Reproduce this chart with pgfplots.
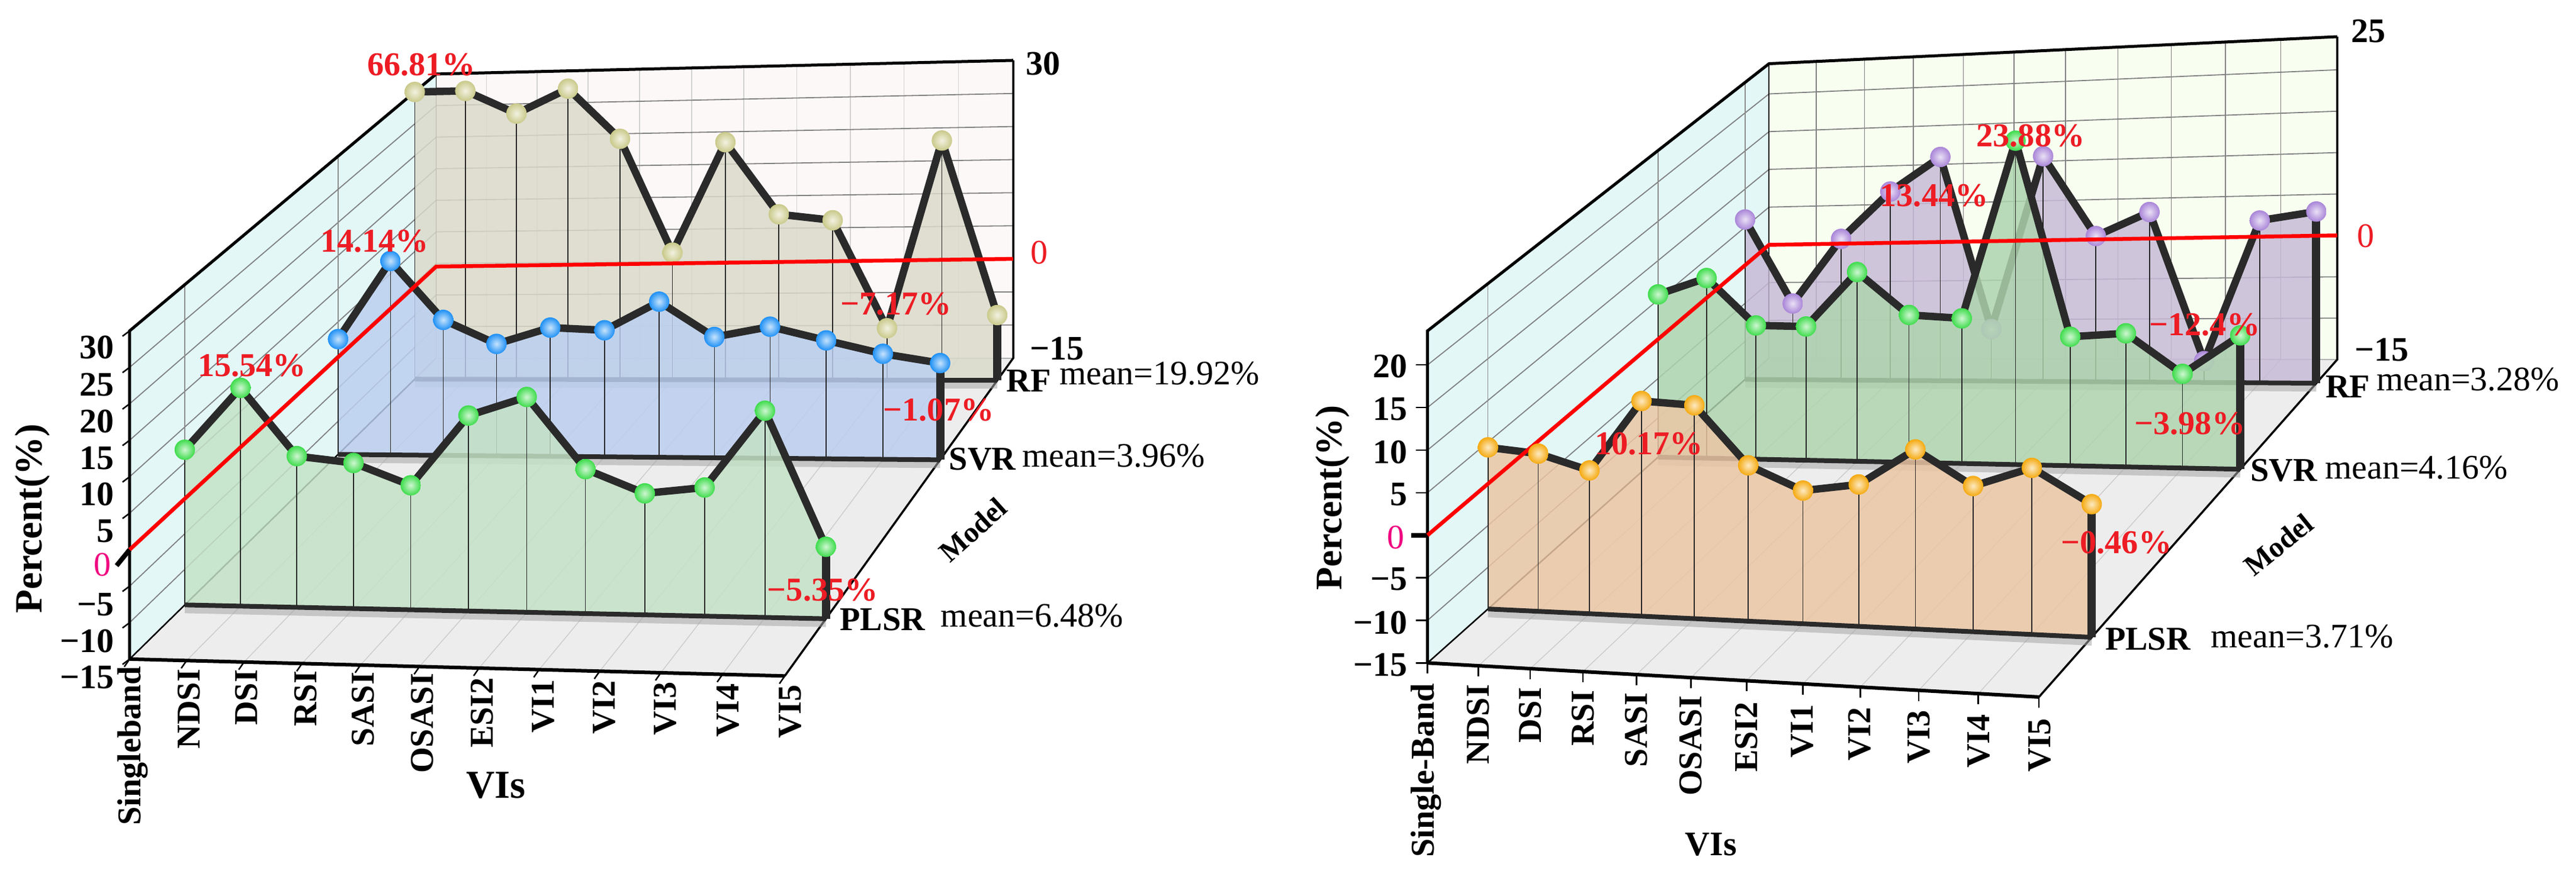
\documentclass[border=0pt]{standalone}
\usepackage{fontspec}
\setmainfont{Liberation Serif}
\usepackage{pgfplots}
\usepackage{pgfplotstable}
\pgfplotsset{compat=1.18}
\definecolor{wallL}{HTML}{E3F7F7}
\definecolor{backA}{HTML}{FDF8F8}
\definecolor{backB}{HTML}{F8FFF0}
\definecolor{floorC}{HTML}{EDEDED}
\definecolor{lineC}{HTML}{2A2A2A}
\definecolor{areaG}{HTML}{C4E2C6}
\definecolor{areaB}{HTML}{BBCFF0}
\definecolor{areaK}{HTML}{DADACA}
\definecolor{areaO}{HTML}{EBC6A4}
\definecolor{areaG2}{HTML}{AED4AE}
\definecolor{areaP}{HTML}{C6BAD6}
\definecolor{ballG}{HTML}{3DDC4B}
\definecolor{ballB}{HTML}{1E90F5}
\definecolor{ballK}{HTML}{C9C98A}
\definecolor{ballP}{HTML}{A985D8}
\definecolor{ballO}{HTML}{F5A90E}
\definecolor{redL}{HTML}{ED1C24}
\definecolor{pinkL}{HTML}{F0047F}
\newcommand\newball[2]{\pgfdeclareplotmark{sb#1}{\shade[inner color=#2!25!white,outer color=#2] (0,0) circle (\pgfplotmarksize);}}
\newball{G}{ballG}\newball{B}{ballB}\newball{K}{ballK}\newball{P}{ballP}\newball{O}{ballO}

% values: category index c, percent z; the last two rows close the area at -15
\pgfplotstableread{
c z
0 6.80
1 15.54
2 6.07
3 5.20
4 2.20
5 11.90
6 14.50
7 4.70
8 1.50
9 2.40
10 12.84
11 -5.35
11 -15
0 -15
}\tabAplsr
\pgfplotstableread{
c z
0 2.40
1 14.14
2 5.27
3 1.68
4 4.10
5 3.70
6 7.90
7 2.70
8 4.20
9 2.20
10 0.26
11 -1.07
11 -15
0 -15
}\tabAsvr
\pgfplotstableread{
c z
0 30.0
1 30.0
2 26.3
3 30.0
4 22.1
5 4.5
6 21.3
7 10.2
8 9.2
9 -7.17
10 21.0
11 -5.24
11 -15
0 -15
}\tabArf
\pgfplotstableread{
c z
0 4.37
1 3.75
2 1.90
3 10.17
4 9.75
5 2.93
6 0.19
7 1.05
8 5.14
9 1.20
10 3.36
11 -0.46
11 -15
0 -15
}\tabBplsr
\pgfplotstableread{
c z
0 5.70
1 7.73
2 1.74
3 1.60
4 8.30
5 3.00
6 2.57
7 23.88
8 0.35
9 0.76
10 -3.98
11 0.52
11 -15
0 -15
}\tabBsvr
\pgfplotstableread{
c z
0 6.00
1 -5.07
2 3.24
3 9.20
4 13.44
5 -8.45
6 13.15
7 3.06
8 5.90
9 -12.40
10 4.60
11 5.55
11 -15
0 -15
}\tabBrf

\pgfkeys{/pgfplots/table/pixm/.style={
  x expr={px(\thisrow{c},#1)},
  y expr={py(\thisrow{c},#1,\thisrow{z})}}}
\pgfkeys{/pgfplots/table/pixo/.style 2 args={
  x expr={px(\thisrow{c},\thisrow{m})+\thisrow{d}*#1},
  y expr={py(\thisrow{c},\thisrow{m},\thisrow{z})+\thisrow{d}*#2}}}
\newcommand\poly[2]{\addplot[forget plot,#1] table[row sep=\\,pixm=\thisrow{m}]{c m z\\ #2};}
\newcommand\tick[6]{\addplot[forget plot,#1] table[row sep=\\,pixo={#5}{#6}]{c m z d\\ #2 #3 #4 0\\ #2 #3 #4 1\\};}
\newcommand\fs[1]{\fontsize{#1}{#1}\selectfont}
\newcommand\lbl[4][]{\node[inner sep=0pt,#1] at (axis cs:#2,#3) {#4};}
\tikzset{
 ptb/.style={font={\fs{16.5}\bfseries},anchor=east},
 cat/.style={font={\fs{16}\bfseries},rotate=90,anchor=east},
 redv/.style={font={\fs{16}\bfseries},text=redL},
 mean/.style={font={\fs{16.5}}},
 mod/.style={font={\fs{16}\bfseries}}
}
% series: area, base line, drops, line
\newcommand\seriesA[4]{%
 \addplot[forget plot,fill=#3,draw=none,opacity=.84] table[pixm=#2]{#1};
 \addplot[forget plot,draw=none,
   error bars/y dir=plus,error bars/y explicit,error bars/error mark=none,
   error bars/error bar style={draw=black!85,line width=0.016cm},
   skip coords between index={12}{14}]
   table[pixm=#2,y error plus expr={py(\thisrow{c},#2,-15)-py(\thisrow{c},#2,\thisrow{z})}]{#1};
 \addplot[forget plot,line width=0.10cm,black!35,opacity=.55,skip coords between index={0}{12}]
   table[x expr={px(\thisrow{c},#2)},y expr={py(\thisrow{c},#2,\thisrow{z})+9}]{#1};
 \addplot[forget plot,line width=0.08cm,lineC,skip coords between index={0}{12}] table[pixm=#2]{#1};
 \addplot[forget plot,line width=0.14cm,lineC,skip coords between index={0}{11},skip coords between index={13}{14}] table[pixm=#2]{#1};
 \addplot[forget plot,line width=#4,lineC,line join=round,skip coords between index={12}{14}] table[pixm=#2]{#1};
}
\newcommand\seriesM[3]{%
 \addplot[forget plot,draw=none,mark=sb#3,mark size=4.9pt,
   skip coords between index={12}{14}] table[pixm=#2]{#1};
}
\newcommand\walls[3]{% top z, back colour, v-grid colour
 \poly{fill=#2,draw=none}{0 1 -15\\ 0 1 #1\\ 11 1 #1\\ 11 1 -15\\}
 \poly{fill=wallL,draw=none}{0 0 -15\\ 0 0 #1\\ 0 1 #1\\ 0 1 -15\\}
 \poly{fill=floorC,draw=none}{0 0 -15\\ 11 0 -15\\ 11 1 -15\\ 0 1 -15\\}
 \pgfplotsinvokeforeach{1,2,3,4,5,6,7,8,9,10}{%
   \poly{#3,line width=0.016cm}{##1 1 -15\\ ##1 1 #1\\}
   \poly{black!20,line width=0.014cm}{##1 0 -15\\ ##1 1 -15\\}
 }
 \pgfplotsinvokeforeach{-10,-5,0,5,10,15,20}{%
   \poly{black!50,line width=0.018cm}{11 1 ##1\\ 0 1 ##1\\ 0 0 ##1\\}
 }
 \pgfplotsinvokeforeach{-15}{\poly{black!30,line width=0.018cm}{11 1 ##1\\ 0 1 ##1\\}}
}
\newcommand\frameC[1]{%
 \poly{black,line width=0.05cm,line join=miter}{0 0 -15\\ 0 0 #1\\ 0 1 #1\\ 11 1 #1\\}
 \poly{black,line width=0.035cm}{11 1 #1\\ 11 1 -15\\ 11 0 -15\\}
 \poly{black,line width=0.06cm}{11 0 -15\\ 0 0 -15\\}
 \poly{black,line width=0.018cm}{0 1 #1\\ 0 1 -15\\}
 \poly{black,line width=0.025cm}{0 0 -15\\ 0 1 -15\\}
}
\begin{document}
\begin{tikzpicture}[declare function={
  lerp(\ta,\ua,\ub)=\ua+\ta*(\ub-\ua);
  warp(\cc)=(\cc/11)/((\cc/11)+\WR*(1-\cc/11));
  px(\cc,\mm)=lerp(\mm,lerp(warp(\cc),\Xa,\Xb),lerp(warp(\cc),\Xc,\Xd));
  py(\cc,\mm,\zz)=lerp((\zz+15)/(\ZT+15),
     lerp(\mm,lerp(warp(\cc),\Ya,\Yb),lerp(warp(\cc),\Yc,\Yd)),
     lerp(\mm,lerp(warp(\cc),\Ye,\Yf),lerp(warp(\cc),\Yg,\Yh)));
}]
\path[use as bounding box] (0,0) rectangle (43.5cm,14.95cm);

% ---------- left chart
\def\WR{1.05}\def\ZT{30}
\def\Xa{219}\def\Xb{1326}\def\Xc{737}\def\Xd{1712}
\def\Ya{1113.5}\def\Yb{1142}\def\Yc{605}\def\Yd{605}
\def\Ye{559}\def\Yf{561}\def\Yg{125}\def\Yh{102}
\begin{axis}[at={(0cm,14.95cm)},anchor=origin,x=0.01cm,y=0.01cm,y dir=reverse,
  xmin=0,xmax=4350,ymin=0,ymax=1495,hide axis,clip=false,clip mode=individual]
\walls{30}{backA}{black!18}
\pgfplotsinvokeforeach{0.18,0.68,0.93}{\poly{black!45,line width=0.014cm}{0 #1 -15\\ 0 #1 30\\}}
\poly{black!50,line width=0.018cm}{11 1 25\\ 0 1 25\\ 0 0 25\\}
\frameC{30}
\pgfplotsinvokeforeach{-15,-10,-5,5,10,15,20,25,30}{\tick{black,line width=0.025cm}{0}{0}{#1}{-12}{9}}
\tick{black,line width=0.08cm}{0}{0}{0}{-22}{27}
\pgfplotsinvokeforeach{0,1,2,3,4,5,6,7,8,9,10,11}{\tick{black,line width=0.025cm}{#1}{0}{-15}{-9}{13}}
\seriesA{\tabArf}{0.93}{areaK}{0.125cm}
\seriesM{\tabArf}{0.93}{K}
\seriesA{\tabAsvr}{0.68}{areaB}{0.125cm}
\seriesM{\tabAsvr}{0.68}{B}
\seriesA{\tabAplsr}{0.18}{areaG}{0.125cm}
\poly{red,line width=0.065cm,line join=miter}{0 0 0\\ 0 1 -0.5\\ 11 1 0\\}
\seriesM{\tabAplsr}{0.18}{G}
\lbl[ptb]{193}{587}{30}\lbl[ptb]{193}{650}{25}\lbl[ptb]{193}{712}{20}
\lbl[ptb]{193}{774}{15}\lbl[ptb]{193}{835}{10}\lbl[ptb]{193}{897}{5}
\lbl[ptb,font={\fs{16.5}},text=pinkL]{188}{954}{0}
\lbl[ptb]{193}{1021}{−5}\lbl[ptb]{193}{1083}{−10}\lbl[ptb]{193}{1144}{−15}
\lbl[cat]{224}{1125}{Singleband}\lbl[cat]{319}{1130}{NDSI}\lbl[cat]{416}{1131}{DSI}
\lbl[cat]{516}{1133}{RSI}\lbl[cat]{614}{1135}{SASI}\lbl[cat]{714}{1137}{OSASI}
\lbl[cat]{815}{1144}{ESI2}\lbl[cat]{918}{1147}{VI1}\lbl[cat]{1021}{1149}{VI2}
\lbl[cat]{1124}{1151}{VI3}\lbl[cat]{1230}{1154}{VI4}\lbl[cat]{1335}{1156}{VI5}
\lbl[font={\fs{19}\bfseries}]{838}{1327}{VIs}
\lbl[font={\fs{18.5}\bfseries},rotate=90]{55}{876}{Percent(\%)}
\lbl[ptb,anchor=center]{1763}{108}{30}
\lbl[font={\fs{16.5}},text=redL]{1756}{427}{0}
\lbl[ptb,anchor=center]{1786}{589}{−15}
\lbl[mod]{1738}{643}{RF}\lbl[mean]{1959}{631}{mean=19.92\%}
\lbl[mod]{1660}{776}{SVR}\lbl[mean]{1882}{770}{mean=3.96\%}
\lbl[mod]{1491}{1047}{PLSR}\lbl[mean]{1744}{1040}{mean=6.48\%}
\lbl[font={\fs{14}\bfseries},rotate=42]{1644}{895}{Model}
\lbl[redv]{712}{109}{66.81\%}\lbl[redv]{633}{407}{14.14\%}\lbl[redv]{426}{618}{15.54\%}
\lbl[redv]{1514}{513}{−7.17\%}\lbl[redv]{1586}{693}{−1.07\%}\lbl[redv]{1390}{997}{−5.35\%}
\end{axis}

% ---------- right chart
\def\WR{1.10}\def\ZT{24}
\def\Xa{2412}\def\Xb{3445}\def\Xc{2989}\def\Xd{3949}
\def\Ya{1120}\def\Yb{1177.6}\def\Yc{605}\def\Yd{607.5}
\def\Ye{559}\def\Yf{562}\def\Yg{107.6}\def\Yh{62}
\begin{axis}[at={(0cm,14.95cm)},anchor=origin,x=0.01cm,y=0.01cm,y dir=reverse,
  xmin=0,xmax=4350,ymin=0,ymax=1495,hide axis,clip=false,clip mode=individual]
\walls{24}{backB}{black!50}
\pgfplotsinvokeforeach{0.177,0.675,0.93}{\poly{black!45,line width=0.014cm}{0 #1 -15\\ 0 #1 24\\}}
\frameC{24}
\pgfplotsinvokeforeach{-15,-10,-5,5,10,15,20}{\tick{black,line width=0.025cm}{0}{0}{#1}{-20}{0}}
\tick{black,line width=0.08cm}{0}{0}{0}{-28}{0}
\pgfplotsinvokeforeach{0,1,2,3,4,5,6,7,8,9,10,11}{\tick{black,line width=0.025cm}{#1}{0}{-15}{0}{18}}
\seriesA{\tabBrf}{0.93}{areaP}{0.125cm}
\seriesM{\tabBrf}{0.93}{P}
\seriesA{\tabBsvr}{0.675}{areaG2}{0.125cm}
\seriesM{\tabBsvr}{0.675}{G}
\seriesA{\tabBplsr}{0.177}{areaO}{0.125cm}
\poly{red,line width=0.065cm,line join=miter}{0 0 0\\ 0 1 0\\ 11 1 0\\}
\seriesM{\tabBplsr}{0.177}{O}
\lbl[ptb]{2379}{619}{20}\lbl[ptb]{2379}{691}{15}\lbl[ptb]{2379}{764}{10}
\lbl[ptb]{2379}{835}{5}
\lbl[ptb,font={\fs{16.5}},text=pinkL]{2374}{908}{0}
\lbl[ptb]{2379}{978}{−5}\lbl[ptb]{2379}{1052}{−10}\lbl[ptb]{2379}{1123}{−15}
\lbl[cat]{2410}{1154}{Single-Band}\lbl[cat]{2498}{1156}{NDSI}\lbl[cat]{2586}{1161}{DSI}
\lbl[cat]{2675}{1166}{RSI}\lbl[cat]{2765}{1170}{SASI}\lbl[cat]{2857}{1175}{OSASI}
\lbl[cat]{2951}{1185}{ESI2}\lbl[cat]{3045}{1189}{VI1}\lbl[cat]{3142}{1194}{VI2}
\lbl[cat]{3242}{1199}{VI3}\lbl[cat]{3343}{1206}{VI4}\lbl[cat]{3446}{1213}{VI5}
\lbl[font={\fs{16.5}\bfseries}]{2891}{1427}{VIs}
\lbl[font={\fs{18}\bfseries},rotate=90]{2252}{841}{Percent(\%)}
\lbl[ptb,anchor=center]{4002}{53}{25}
\lbl[font={\fs{16.5}},text=redL]{3997}{399}{0}
\lbl[ptb,anchor=center]{4024}{591}{−15}
\lbl[mod]{3967}{653}{RF}\lbl[mean]{4170}{641}{mean=3.28\%}
\lbl[mod]{3859}{795}{SVR}\lbl[mean]{4083}{790}{mean=4.16\%}
\lbl[mod]{3629}{1080}{PLSR}\lbl[mean]{3890}{1075}{mean=3.71\%}
\lbl[font={\fs{14}\bfseries},rotate=39]{3850}{920}{Model}
\lbl[redv]{3268}{330}{13.44\%}\lbl[redv]{3431}{229}{23.88\%}\lbl[redv]{2786}{750}{10.17\%}
\lbl[redv]{3725}{549}{−12.4\%}\lbl[redv]{3700}{716}{−3.98\%}\lbl[redv]{3576}{917}{−0.46\%}
\end{axis}
\end{tikzpicture}
\end{document}
